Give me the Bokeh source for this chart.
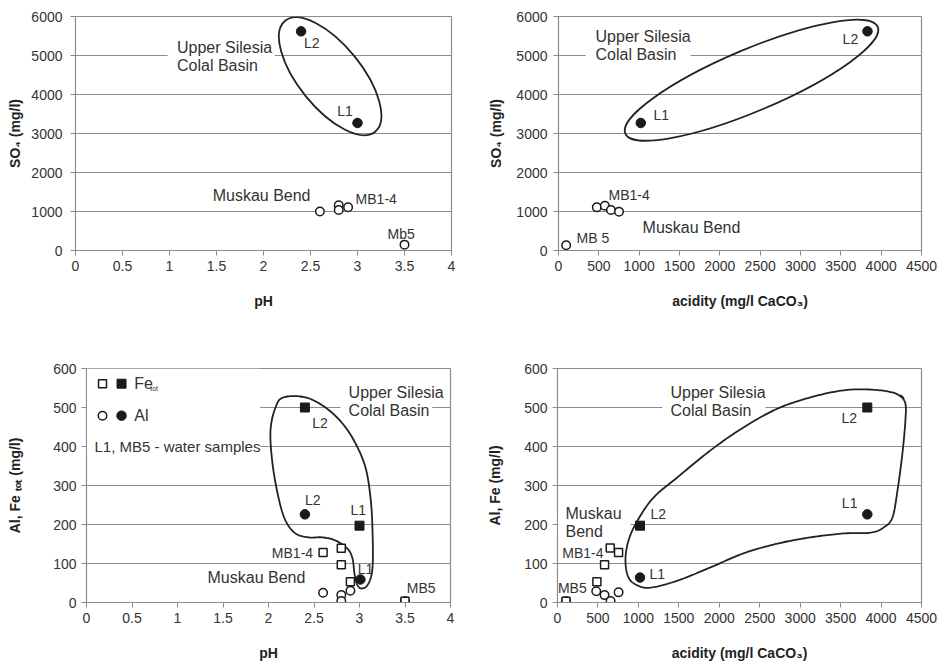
import numpy as np
from bokeh.plotting import figure
from bokeh.layouts import column, row
from bokeh.models import Range1d, FixedTicker, NumeralTickFormatter, BoxAnnotation
from bokeh.core.properties import value
from bokeh.embed import file_html
from bokeh.resources import INLINE

FONT = "Liberation Sans"

# ---------------- data ----------------
# Panel 1: pH vs SO4
p1_L_ph = [2.4, 3.0]
p1_L_so4 = [5620, 3270]
p1_MB_ph = [2.6, 2.8, 2.8, 2.9, 3.5]
p1_MB_so4 = [1000, 1160, 1040, 1110, 150]

# Panel 2: acidity vs SO4
p2_L_acid = [3830, 1020]
p2_L_so4 = [5620, 3270]
p2_MB_acid = [475, 575, 650, 750, 95]
p2_MB_so4 = [1106, 1149, 1038, 996, 136]

# Panel 3: pH vs Al, Fe_tot
p3_L_ph_fe = [2.4, 3.0]
p3_L_fe = [500, 197]
p3_L_ph_al = [2.4, 3.01]
p3_L_al = [226, 59]
p3_MB_ph = [2.6, 2.8, 2.8, 2.9, 3.5]
p3_MB_fe = [128, 139, 97, 53, 3]
p3_MB_al = [25, 19, 4, 30, 3]

# Panel 4: acidity vs Al, Fe
p4_L_acid = [3830, 1020]
p4_L_fe = [500, 197]
p4_L_al = [226, 64]
p4_MB_acid_fe = [652, 755, 582, 487, 105]
p4_MB_fe = [140, 128, 97, 53, 3]
p4_MB_acid_al = [479, 582, 656, 755, 105]
p4_MB_al = [29, 19, 4, 26, 3]

ph_ticks = [0, 0.5, 1, 1.5, 2, 2.5, 3, 3.5, 4]
acid_ticks = [0, 500, 1000, 1500, 2000, 2500, 3000, 3500, 4000, 4500]
so4_ticks = [0, 1000, 2000, 3000, 4000, 5000, 6000]
metal_ticks = [0, 100, 200, 300, 400, 500, 600]

# outlines of the grouping curves (annotation shapes)
p3_blob_x = [2.165, 2.407, 2.626, 2.813, 2.956, 3.066, 3.121, 3.143, 3.143, 3.099, 3.033, 2.978,
             2.945, 2.923, 2.868, 2.736, 2.593, 2.440, 2.297, 2.187, 2.110, 2.044, 2.022, 2.077]
p3_blob_y = [526, 526, 500, 459, 408, 346, 269, 185, 90, 49, 36, 44,
             74, 113, 138, 159, 167, 167, 177, 210, 269, 356, 441, 500]
p4_blob_x = [4277, 4153, 3869, 3535, 3127, 2719, 2299, 1891, 1483, 1187, 989, 878, 840, 878, 989,
             1149, 1483, 1891, 2299, 2719, 3127, 3535, 3869, 4030, 4141, 4203, 4264, 4301, 4301, 4240]
p4_blob_y = [523, 538, 546, 544, 526, 497, 449, 390, 321, 269, 210, 159, 108, 64, 44,
             38, 56, 90, 126, 151, 167, 177, 179, 192, 218, 287, 382, 467, 510, 531]

GRID = "#8c8c8c"
TXT = "#333333"
INK = "#1a1a1a"


def smooth_closed(xs, ys, n=14):
    pts = np.column_stack([xs, ys]).astype(float)
    N = len(pts)
    out = []
    for i in range(N):
        p0, p1, p2, p3 = pts[(i - 1) % N], pts[i], pts[(i + 1) % N], pts[(i + 2) % N]
        for t in np.linspace(0, 1, n, endpoint=False):
            t2, t3 = t * t, t * t * t
            out.append(0.5 * ((2 * p1) + (-p0 + p2) * t + (2 * p0 - 5 * p1 + 4 * p2 - p3) * t2
                              + (-p0 + 3 * p1 - 3 * p2 + p3) * t3))
    out.append(out[0])
    out = np.array(out)
    return out[:, 0], out[:, 1]


def make_fig(w, h, l, r, t, b, xr, yr, xticks, yticks, xlabel, ylabel,
             ph_fmt, y_std, ylab_std, xlab_std):
    p = figure(width=w, height=h, x_range=Range1d(*xr), y_range=Range1d(*yr),
               output_backend="svg", toolbar_location=None,
               min_border_left=l, min_border_right=r, min_border_top=t, min_border_bottom=b)
    p.outline_line_color = GRID
    p.outline_line_width = 1.2
    p.xgrid.visible = False
    p.ygrid.grid_line_color = GRID
    p.ygrid.grid_line_width = 1.2
    p.xaxis.ticker = FixedTicker(ticks=xticks)
    p.yaxis.ticker = FixedTicker(ticks=yticks)
    if ph_fmt:
        p.xaxis.formatter = NumeralTickFormatter(format="0[.]0")
    p.xaxis.axis_label = xlabel
    p.yaxis.axis_label = ylabel
    for ax in (p.xaxis[0], p.yaxis[0]):
        ax.axis_line_color = GRID
        ax.major_tick_line_color = GRID
        ax.major_tick_out = 5
        ax.major_tick_in = 0
        ax.minor_tick_line_color = None
        ax.major_label_text_font = FONT
        ax.major_label_text_font_size = "14px"
        ax.major_label_text_color = TXT
        ax.axis_label_text_font = FONT
        ax.axis_label_text_font_style = "bold"
        ax.axis_label_text_font_size = "14px"
        ax.axis_label_text_color = "#222222"
    p.xaxis.major_label_standoff = 5
    p.yaxis.major_label_standoff = y_std
    p.yaxis.axis_label_standoff = ylab_std
    p.xaxis.axis_label_standoff = xlab_std
    return p


def mask(p, left, right, bottom, top):
    # white patch that interrupts the gridlines behind a text block
    p.add_layout(BoxAnnotation(left=left, right=right, bottom=bottom, top=top,
                               fill_color="white", fill_alpha=1.0, line_color=None,
                               level="underlay"))


def txt(p, x, y, s, align="left", size="14px"):
    p.text(x=[x], y=[y], text=[s], text_font=value(FONT), text_font_size=size,
           text_align=align, text_baseline="middle", text_color=TXT)


def open_circles(p, x, y):
    p.scatter(x, y, marker="circle", size=8.5, fill_color="white", line_color=INK, line_width=1.5)


def filled_circles(p, x, y):
    p.scatter(x, y, marker="circle", size=9.5, fill_color=INK, line_color=INK)


def open_squares(p, x, y):
    p.scatter(x, y, marker="square", size=8, fill_color="white", line_color=INK, line_width=1.5)


def filled_squares(p, x, y):
    p.scatter(x, y, marker="square", size=9, fill_color=INK, line_color=INK)


# ---------------- panel 1 ----------------
p1 = make_fig(470, 320, 75, 19, 15, 70, (0, 4), (0, 6000), ph_ticks, so4_ticks,
              "pH", "SO\u2084 (mg/l)", True, 8, 5, 19)
mask(p1, 0.98, 2.12, 4800, 5200)
p1.ellipse(x=[2.709], y=[4468], width=[143], height=[63], angle=[-0.89],
           width_units="screen", height_units="screen",
           fill_color=None, line_color="#222222", line_width=1.8)
filled_circles(p1, p1_L_ph, p1_L_so4)
open_circles(p1, p1_MB_ph, p1_MB_so4)
txt(p1, 1.08, 5208, "Upper Silesia", "left", "16px")
txt(p1, 1.08, 4749, "Colal Basin", "left", "16px")
txt(p1, 2.43, 5310, "L2")
txt(p1, 2.95, 3574, "L1", "right")
txt(p1, 2.98, 1328, "MB1-4")
txt(p1, 3.32, 434, "Mb5")
txt(p1, 2.50, 1404, "Muskau Bend", "right", "16px")

# ---------------- panel 2 ----------------
p2 = make_fig(471, 320, 88, 20, 16, 69, (0, 4500), (0, 6000), acid_ticks, so4_ticks,
              "acidity (mg/l CaCO\u2083)", "SO\u2084 (mg/l)", False, 6, 9, 19)
mask(p2, 335, 1637, 4800, 5200)
p2.ellipse(x=[2393], y=[4366], width=[274], height=[62], angle=[0.40],
           width_units="screen", height_units="screen",
           fill_color=None, line_color="#222222", line_width=1.8)
filled_circles(p2, p2_L_acid, p2_L_so4)
open_circles(p2, p2_MB_acid, p2_MB_so4)
txt(p2, 459, 5489, "Upper Silesia", "left", "16px")
txt(p2, 459, 5030, "Colal Basin", "left", "16px")
txt(p2, 3522, 5413, "L2")
txt(p2, 1178, 3472, "L1")
txt(p2, 620, 1430, "MB1-4")
txt(p2, 223, 332, "MB 5")
txt(p2, 1042, 587, "Muskau Bend", "left", "16px")

# ---------------- panel 3 ----------------
p3 = make_fig(470, 345, 86, 20, 48, 63, (0, 4), (0, 600), ph_ticks, metal_ticks,
              "pH", "Al, Fe \u209c\u2092\u209c (mg/l)", True, 5, 27, 19)
mask(p3, 0, 1.91, 378, 600)
mask(p3, 2.79, 3.80, 480, 520)
bx, by = smooth_closed(p3_blob_x, p3_blob_y)
p3.line(bx, by, line_color="#222222", line_width=1.8)
open_circles(p3, p3_MB_ph, p3_MB_al)
open_squares(p3, p3_MB_ph, p3_MB_fe)
filled_squares(p3, p3_L_ph_fe, p3_L_fe)
filled_circles(p3, p3_L_ph_al, p3_L_al)
txt(p3, 2.88, 538, "Upper Silesia", "left", "16px")
txt(p3, 2.88, 492, "Colal Basin", "left", "16px")
txt(p3, 2.48, 459, "L2")
txt(p3, 2.40, 264, "L2")
txt(p3, 2.90, 238, "L1")
txt(p3, 2.98, 87, "L1")
txt(p3, 2.49, 128, "MB1-4", "right")
txt(p3, 3.52, 36, "MB5")
txt(p3, 1.33, 64, "Muskau Bend", "left", "16px")
# legend
open_squares(p3, [0.176], [561])
filled_squares(p3, [0.385], [561])
open_circles(p3, [0.176], [479])
filled_circles(p3, [0.385], [479])
txt(p3, 0.525, 561, "Fe", "left", "16px")
txt(p3, 0.70, 549, "tot", "left", "7px")
txt(p3, 0.525, 479, "Al", "left", "16px")
txt(p3, 0.088, 400, "L1, MB5 - water samples", "left", "15px")

# ---------------- panel 4 ----------------
p4 = make_fig(471, 345, 87, 20, 48, 63, (0, 4500), (0, 600), acid_ticks, metal_ticks,
              "acidity (mg/l CaCO\u2083)", "Al, Fe (mg/l)", False, 5, 18, 19)
mask(p4, 1298, 2571, 480, 520)
mask(p4, 0, 902, 180, 220)
cx, cy = smooth_closed(p4_blob_x, p4_blob_y)
p4.line(cx, cy, line_color="#222222", line_width=1.8)
open_circles(p4, p4_MB_acid_al, p4_MB_al)
open_squares(p4, p4_MB_acid_fe, p4_MB_fe)
filled_squares(p4, p4_L_acid, p4_L_fe)
filled_circles(p4, p4_L_acid, p4_L_al)
txt(p4, 1397, 538, "Upper Silesia", "left", "16px")
txt(p4, 1397, 492, "Colal Basin", "left", "16px")
txt(p4, 99, 228, "Muskau", "left", "16px")
txt(p4, 99, 182, "Bend", "left", "16px")
txt(p4, 3510, 474, "L2")
txt(p4, 3708, 256, "L1", "right")
txt(p4, 1150, 228, "L2")
txt(p4, 1137, 72, "L1")
txt(p4, 569, 126, "MB1-4", "right")
txt(p4, 5, 36, "MB5")

layout = column(row(p1, p2), row(p3, p4))
open("out.html", "w").write(file_html(layout, INLINE))
